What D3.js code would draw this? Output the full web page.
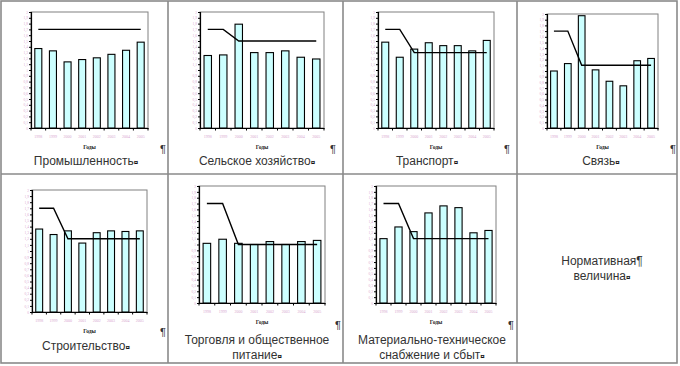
<!DOCTYPE html>
<html><head><meta charset="utf-8">
<script src="https://cdn.jsdelivr.net/npm/d3@7"></script>
<style>body{margin:0;background:#fff}svg{display:block}</style>
</head><body>
<script>
const years = ["1998","1999","2000","2001","2002","2003","2004","2005"];
const yTicks = [0,0.1,0.2,0.3,0.4,0.5,0.6,0.7,0.8,0.9,1,1.1,1.2,1.3,1.4,1.5,1.6,1.7,1.8,1.9,2];
const titles = [
  ["Промышленность"],
  ["Сельское хозяйство"],
  ["Транспорт"],
  ["Связь"],
  ["Строительство"],
  ["Торговля и общественное", "питание"],
  ["Материально-техническое", "снабжение и сбыт"]
];
const valIndustry   = [1.37,1.33,1.14,1.18,1.21,1.27,1.34,1.48];
const valAgri       = [1.25,1.26,1.79,1.30,1.30,1.33,1.22,1.19];
const valTransport  = [1.48,1.22,1.36,1.47,1.42,1.42,1.33,1.51];
const valComm       = [1.00,1.13,1.97,1.02,0.82,0.74,1.18,1.22];
const valBuild      = [1.36,1.27,1.33,1.13,1.30,1.33,1.32,1.33];
const valTrade      = [1.02,1.09,1.02,1.00,1.05,1.00,1.05,1.07];
const valSupply     = [1.10,1.30,1.22,1.54,1.66,1.63,1.20,1.24];
const normIndustry  = [1.7,1.7,1.7,1.7,1.7,1.7,1.7,1.7];
const normAgri      = [1.7,1.7,1.5,1.5,1.5,1.5,1.5,1.5];
const normTransport = [1.7,1.7,1.3,1.3,1.3,1.3,1.3,1.3];
const normComm      = [1.7,1.7,1.1,1.1,1.1,1.1,1.1,1.1];
const normBuild     = [1.7,1.7,1.2,1.2,1.2,1.2,1.2,1.2];
const normTrade     = [1.7,1.7,1.0,1.0,1.0,1.0,1.0,1.0];
const normSupply    = [1.7,1.7,1.1,1.1,1.1,1.1,1.1,1.1];
const values = [valIndustry,valAgri,valTransport,valComm,valBuild,valTrade,valSupply];
const norms  = [normIndustry,normAgri,normTransport,normComm,normBuild,normTrade,normSupply];
const lastCell = ["Нормативная", "величина"];
const xTitle = "Годы";

// layout
const boxes = [
  {l:31,r:148,t:12,b:128, tx:86, ty:[165], px:163, py:153},
  {l:200,r:324,t:12,b:128, tx:257, ty:[165], px:333, py:153},
  {l:378,r:494,t:12,b:128, tx:427, ty:[165], px:507, py:153},
  {l:547,r:658,t:14,b:128, tx:601, ty:[165], px:673, py:153},
  {l:32,r:147,t:190,b:312, tx:86, ty:[350], px:163, py:336},
  {l:199,r:325,t:186,b:303, tx:257, ty:[344,359], px:338, py:329},
  {l:376,r:496,t:186,b:303, tx:432, ty:[344,359], px:511, py:329}
];

const W=680,H=366;
const svg = d3.select("body").append("svg").attr("width",W).attr("height",H);

// table grid
const gridCol = "#8a8a8a";
const g0 = svg.append("g").attr("stroke",gridCol).attr("stroke-width",1.6).attr("fill","none");
g0.append("rect").attr("x",1).attr("y",1).attr("width",676).attr("height",362);
g0.append("line").attr("x1",1).attr("x2",677).attr("y1",174).attr("y2",174);
[168,343,517].forEach(x=>g0.append("line").attr("x1",x).attr("x2",x).attr("y1",1).attr("y2",363));

const fmt = v => String(Math.round(v*10)/10).replace(".",",");

boxes.forEach((bx,i)=>{
  const g = svg.append("g");
  const xc = d3.scaleBand().domain(years).range([bx.l,bx.r]);
  const y = d3.scaleLinear().domain([0,2]).range([bx.b,bx.t]);
  // plot frame
  g.append("rect").attr("x",bx.l).attr("y",bx.t).attr("width",bx.r-bx.l).attr("height",bx.b-bx.t)
    .attr("fill","#fff").attr("stroke","#808080").attr("stroke-width",1);
  // bars
  g.selectAll(".bar").data(values[i]).join("rect")
    .attr("x",(d,j)=>xc(years[j])+xc.bandwidth()*0.26)
    .attr("width",xc.bandwidth()*0.48)
    .attr("y",d=>y(d)).attr("height",d=>bx.b-y(d))
    .attr("fill","#ccffff").attr("stroke","#000").attr("stroke-width",1.1);
  // norm line
  const line = d3.line().x((d,j)=>xc(years[j])+xc.bandwidth()/2).y(d=>y(d));
  g.append("path").attr("d",line(norms[i])).attr("fill","none").attr("stroke","#000").attr("stroke-width",1.4);
  // y axis
  const ya = d3.axisLeft(y).tickValues(yTicks).tickSize(2).tickFormat(fmt);
  const yg = g.append("g").attr("transform",`translate(${bx.l},0)`).call(ya);
  yg.select(".domain").attr("stroke","#000").attr("stroke-width",1.2);
  yg.selectAll(".tick line").attr("stroke","#000");
  yg.selectAll(".tick text").attr("font-size",3.6).attr("fill","#d7a8d0").attr("font-family","Liberation Serif").attr("x",-3);
  // x axis
  const xa = d3.axisBottom(xc).tickSize(0).tickPadding(7);
  const xg = g.append("g").attr("transform",`translate(0,${bx.b})`).call(xa);
  xg.select(".domain").attr("stroke","#000").attr("stroke-width",1.2);
  xg.selectAll(".tick text").attr("font-size",4).attr("fill","#d7a8d0").attr("font-family","Liberation Serif");
  // category separator ticks
  years.forEach((yy)=>{
    g.append("line").attr("x1",xc(yy)).attr("x2",xc(yy)).attr("y1",bx.b).attr("y2",bx.b+2.5).attr("stroke","#000");
  });
  g.append("line").attr("x1",bx.r).attr("x2",bx.r).attr("y1",bx.b).attr("y2",bx.b+2.5).attr("stroke","#000");
  // x title
  g.append("text").attr("x",(bx.l+bx.r)/2).attr("y",bx.b+21).attr("text-anchor","middle")
    .attr("font-family","Liberation Serif").attr("font-weight","bold").attr("font-size",5.5).attr("fill","#222").text(xTitle);
  // title
  titles[i].forEach((t,k)=>{
    const tt = g.append("text").attr("x",bx.tx).attr("y",bx.ty[k]).attr("text-anchor","middle")
      .attr("font-family","Liberation Sans").attr("font-size",12).attr("fill","#333");
    tt.append("tspan").text(t);
    if (k===titles[i].length-1) tt.append("tspan").attr("font-size",8).attr("font-weight","bold").attr("fill","#111").text("¤");
    else tt.append("tspan").attr("fill","#777").text(" ");
  });
  g.append("text").attr("x",bx.px).attr("y",bx.py).attr("text-anchor","middle")
    .attr("font-family","Liberation Sans").attr("font-size",11).attr("fill","#333").text("¶");
});

// last cell
const lc = svg.append("g");
lc.append("text").attr("x",602).attr("y",265).attr("text-anchor","middle")
  .attr("font-family","Liberation Sans").attr("font-size",12).attr("fill","#333").text(lastCell[0]+"¶");
const t2 = lc.append("text").attr("x",602).attr("y",280).attr("text-anchor","middle")
  .attr("font-family","Liberation Sans").attr("font-size",12).attr("fill","#333");
t2.append("tspan").text(lastCell[1]);
t2.append("tspan").attr("font-size",8).attr("font-weight","bold").attr("fill","#111").text("¤");
</script>
</body></html>
